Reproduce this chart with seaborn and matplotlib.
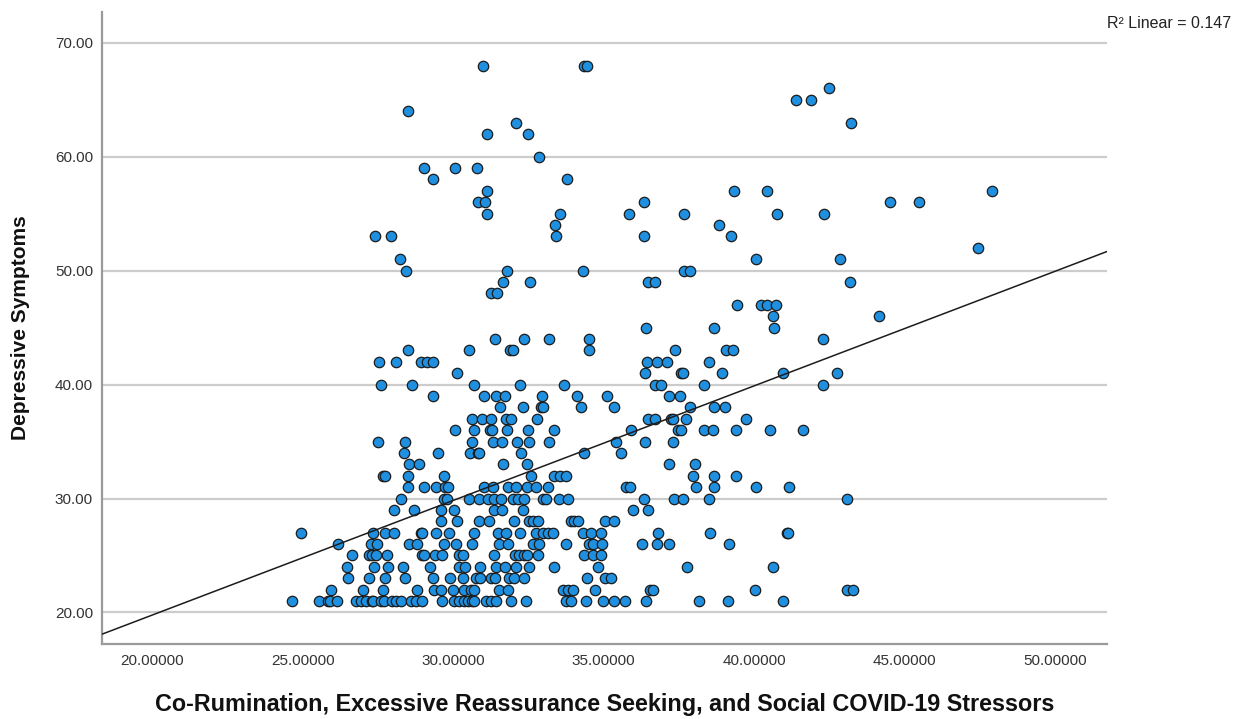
import matplotlib
matplotlib.use("Agg")
import matplotlib.pyplot as plt
from matplotlib.ticker import FormatStrFormatter
import numpy as np
import pandas as pd
import seaborn as sns

# ---- data ----
corumination = [
    30.99, 34.36, 34.45,
    42.48,
    41.40, 41.90,
    28.48,
    32.10, 43.22,
    31.12, 32.48,
    32.86,
    29.02, 30.05, 30.79,
    29.32, 33.79,
    31.11, 39.34, 40.43, 47.92,
    30.83, 31.06, 36.36, 44.53, 45.48,
    31.12, 33.55, 35.83, 37.68, 40.75, 42.33,
    33.38, 38.84,
    27.40, 27.92, 33.42, 36.36, 39.22,
    47.44,
    28.23, 40.06, 42.86,
    28.44, 31.79, 34.32, 37.68, 37.86,
    31.66, 32.54, 36.48, 36.70, 43.18,
    31.25, 31.45,
    39.42, 40.23, 40.42, 40.72,
    40.62, 44.17,
    36.42, 38.68, 40.66,
    31.40, 32.36, 33.18, 34.50, 42.28,
    28.48, 30.54, 31.90, 31.98, 34.50, 37.36, 39.06, 39.29,
    27.53, 28.10, 28.92, 29.14, 29.34, 36.45, 36.79, 37.12, 38.51,
    30.12, 36.39, 37.59, 37.64, 38.95, 40.98, 42.75,
    27.59, 28.62, 30.68, 32.22, 33.67, 36.70, 36.92, 38.34, 42.31,
    29.32, 31.01, 31.42, 31.72, 32.95, 34.10, 35.10, 37.16, 37.53,
    31.54, 32.31, 32.93, 32.97, 34.25, 35.34, 37.86, 38.68, 39.03,
    30.64, 30.94, 31.25, 31.75, 31.92, 32.78, 36.48, 36.70, 37.23, 37.31, 37.75, 39.75,
    30.06, 30.68, 31.23, 31.28, 31.78, 32.48, 33.34, 35.90, 37.48, 37.59, 38.34, 38.64, 39.39, 40.55, 41.64,
    27.51, 28.41, 30.62, 31.31, 31.61, 32.12, 32.53, 33.17, 35.42, 36.39, 37.31,
    28.36, 29.50, 30.56, 30.81, 30.86, 32.25, 34.36, 35.59,
    28.53, 28.86, 31.64, 32.45, 37.16, 38.03,
    27.66, 27.72, 28.50, 29.68, 32.57, 33.36, 33.56, 33.75, 37.98, 38.68, 39.39,
    28.50, 29.02, 29.42, 29.72, 29.81, 31.03, 31.31, 31.81, 32.09, 32.45, 32.75, 33.14, 35.75, 35.87, 38.06, 38.66, 40.06, 41.16,
    28.25, 29.68, 29.79, 30.53, 30.86, 31.14, 31.36, 31.59, 31.98, 32.14, 32.36, 32.98, 33.09, 33.53, 33.81, 36.36, 37.34, 37.64, 38.50, 43.10,
    28.03, 28.71, 29.58, 30.03, 31.36, 31.62, 32.33, 35.97, 36.48,
    29.58, 30.14, 30.86, 31.20, 32.03, 32.53, 32.64, 32.81, 33.92, 34.03, 34.14, 35.03, 35.34,
    24.93, 27.32, 27.72, 28.04, 28.93, 28.97, 29.42, 29.87, 30.70, 31.48, 31.75, 32.22, 32.75, 32.98, 33.14, 33.31, 34.31, 34.59, 34.92, 36.81, 38.55, 41.09, 41.13,
    26.18, 27.25, 27.48, 28.53, 28.79, 29.70, 30.09, 30.61, 31.53, 31.81, 32.64, 32.86, 33.75, 34.53, 34.64, 34.94, 36.28, 36.78, 37.16, 39.16,
    26.62, 27.20, 27.31, 27.42, 27.79, 28.97, 29.03, 29.40, 29.64, 30.20, 30.31, 31.36, 32.05, 32.20, 32.36, 32.45, 32.81, 34.36, 34.64, 34.92,
    26.48, 27.36, 27.84, 28.33, 29.23, 30.20, 30.39, 30.90, 31.42, 31.72, 32.09, 32.51, 33.36, 34.81, 37.79, 40.64,
    26.51, 27.20, 27.73, 28.39, 29.34, 29.90, 30.31, 30.75, 30.90, 31.25, 31.39, 31.86, 32.03, 32.34, 34.45, 35.03, 35.25,
    25.93, 26.99, 27.66, 28.79, 29.36, 29.59, 29.98, 30.37, 30.59, 30.70, 31.53, 31.81, 33.64, 33.81, 33.98, 34.70, 36.53, 36.64, 40.03, 43.09, 43.31,
    24.64, 25.53, 25.83, 25.90, 26.12, 26.75, 26.92, 27.09, 27.31, 27.34, 27.59, 27.70, 27.98, 28.09, 28.25, 28.59, 28.75, 28.97, 29.64, 30.03,
    30.20, 30.37, 30.48, 30.64, 30.70, 31.09, 31.25, 31.42, 31.92, 32.42, 33.75, 33.92, 34.42, 34.98, 35.36, 35.70, 36.42, 38.18, 39.14, 40.95,
]

depressive = [
    68, 68, 68,
    66,
    65, 65,
    64,
    63, 63,
    62, 62,
    60,
    59, 59, 59,
    58, 58,
    57, 57, 57, 57,
    56, 56, 56, 56, 56,
    55, 55, 55, 55, 55, 55,
    54, 54,
    53, 53, 53, 53, 53,
    52,
    51, 51, 51,
    50, 50, 50, 50, 50,
    49, 49, 49, 49, 49,
    48, 48,
    47, 47, 47, 47,
    46, 46,
    45, 45, 45,
    44, 44, 44, 44, 44,
    43, 43, 43, 43, 43, 43, 43, 43,
    42, 42, 42, 42, 42, 42, 42, 42, 42,
    41, 41, 41, 41, 41, 41, 41,
    40, 40, 40, 40, 40, 40, 40, 40, 40,
    39, 39, 39, 39, 39, 39, 39, 39, 39,
    38, 38, 38, 38, 38, 38, 38, 38, 38,
    37, 37, 37, 37, 37, 37, 37, 37, 37, 37, 37, 37,
    36, 36, 36, 36, 36, 36, 36, 36, 36, 36, 36, 36, 36, 36, 36,
    35, 35, 35, 35, 35, 35, 35, 35, 35, 35, 35,
    34, 34, 34, 34, 34, 34, 34, 34,
    33, 33, 33, 33, 33, 33,
    32, 32, 32, 32, 32, 32, 32, 32, 32, 32, 32,
    31, 31, 31, 31, 31, 31, 31, 31, 31, 31, 31, 31, 31, 31, 31, 31, 31, 31,
    30, 30, 30, 30, 30, 30, 30, 30, 30, 30, 30, 30, 30, 30, 30, 30, 30, 30, 30, 30,
    29, 29, 29, 29, 29, 29, 29, 29, 29,
    28, 28, 28, 28, 28, 28, 28, 28, 28, 28, 28, 28, 28,
    27, 27, 27, 27, 27, 27, 27, 27, 27, 27, 27, 27, 27, 27, 27, 27, 27, 27, 27, 27, 27, 27, 27,
    26, 26, 26, 26, 26, 26, 26, 26, 26, 26, 26, 26, 26, 26, 26, 26, 26, 26, 26, 26,
    25, 25, 25, 25, 25, 25, 25, 25, 25, 25, 25, 25, 25, 25, 25, 25, 25, 25, 25, 25,
    24, 24, 24, 24, 24, 24, 24, 24, 24, 24, 24, 24, 24, 24, 24, 24,
    23, 23, 23, 23, 23, 23, 23, 23, 23, 23, 23, 23, 23, 23, 23, 23, 23,
    22, 22, 22, 22, 22, 22, 22, 22, 22, 22, 22, 22, 22, 22, 22, 22, 22, 22, 22, 22, 22,
    21, 21, 21, 21, 21, 21, 21, 21, 21, 21, 21, 21, 21, 21, 21, 21, 21, 21, 21, 21,
    21, 21, 21, 21, 21, 21, 21, 21, 21, 21, 21, 21, 21, 21, 21, 21, 21, 21, 21, 21,
]

# fit line as shown in the reference (SPSS linear fit, R^2 = 0.147)
fit_slope = 1.005
fit_intercept = -0.32

x_ticks = [20, 25, 30, 35, 40, 45, 50]
y_ticks = [20, 30, 40, 50, 60, 70]
x_label = "Co-Rumination, Excessive Reassurance Seeking, and Social COVID-19 Stressors"
y_label = "Depressive Symptoms"
r2_text = "R\u00b2 Linear = 0.147"

assert len(corumination) == len(depressive), (len(corumination), len(depressive))

df = pd.DataFrame({"x": corumination, "y": depressive})

# ---- style ----
sns.set_theme(style="white")
plt.rcParams["font.family"] = ["Liberation Sans", "DejaVu Sans"]

fig = plt.figure(figsize=(12.42, 7.19), dpi=100)
ax = fig.add_axes([102 / 1242, 1 - 644 / 719, 1005 / 1242, 632 / 719])

xlim = (18.32, 51.74)
ylim = (17.23, 72.70)

sns.scatterplot(data=df, x="x", y="y", ax=ax, s=56, color="#1f8fe0",
                edgecolor="#1c1c1c", linewidth=0.9, zorder=3, legend=False)
ax.axline((0, fit_intercept), slope=fit_slope, color="#1c1c1c", lw=1.1, zorder=4)
ax.set_xlim(*xlim)
ax.set_ylim(*ylim)

ax.set_xticks(x_ticks)
ax.set_yticks(y_ticks)
ax.xaxis.set_major_formatter(FormatStrFormatter("%.5f"))
ax.yaxis.set_major_formatter(FormatStrFormatter("%.2f"))
ax.tick_params(axis="both", length=0, labelsize=11, colors="#333333")
ax.tick_params(axis="y", pad=6.5)
ax.tick_params(axis="x", pad=7)

ax.yaxis.grid(True, color="#cccccc", lw=1.6)
ax.xaxis.grid(False)
ax.set_axisbelow(True)

for side in ("top", "right"):
    ax.spines[side].set_visible(False)
for side in ("left", "bottom"):
    ax.spines[side].set_color("#9a9a9a")
    ax.spines[side].set_linewidth(1.6)

ax.set_xlabel(x_label, fontsize=16.8, fontweight="bold", color="#111111", va="top")
ax.xaxis.set_label_coords(0.5, -0.077)
ax.set_ylabel(y_label, fontsize=15, fontweight="bold", color="#111111")
ax.yaxis.set_label_coords(-0.072, 0.5)

fig.text(1107 / 1242, 1 - 24 / 719, r2_text, fontsize=11.5, color="#222222",
         ha="left", va="center")

fig.savefig("out.png", dpi=100, facecolor="white")
